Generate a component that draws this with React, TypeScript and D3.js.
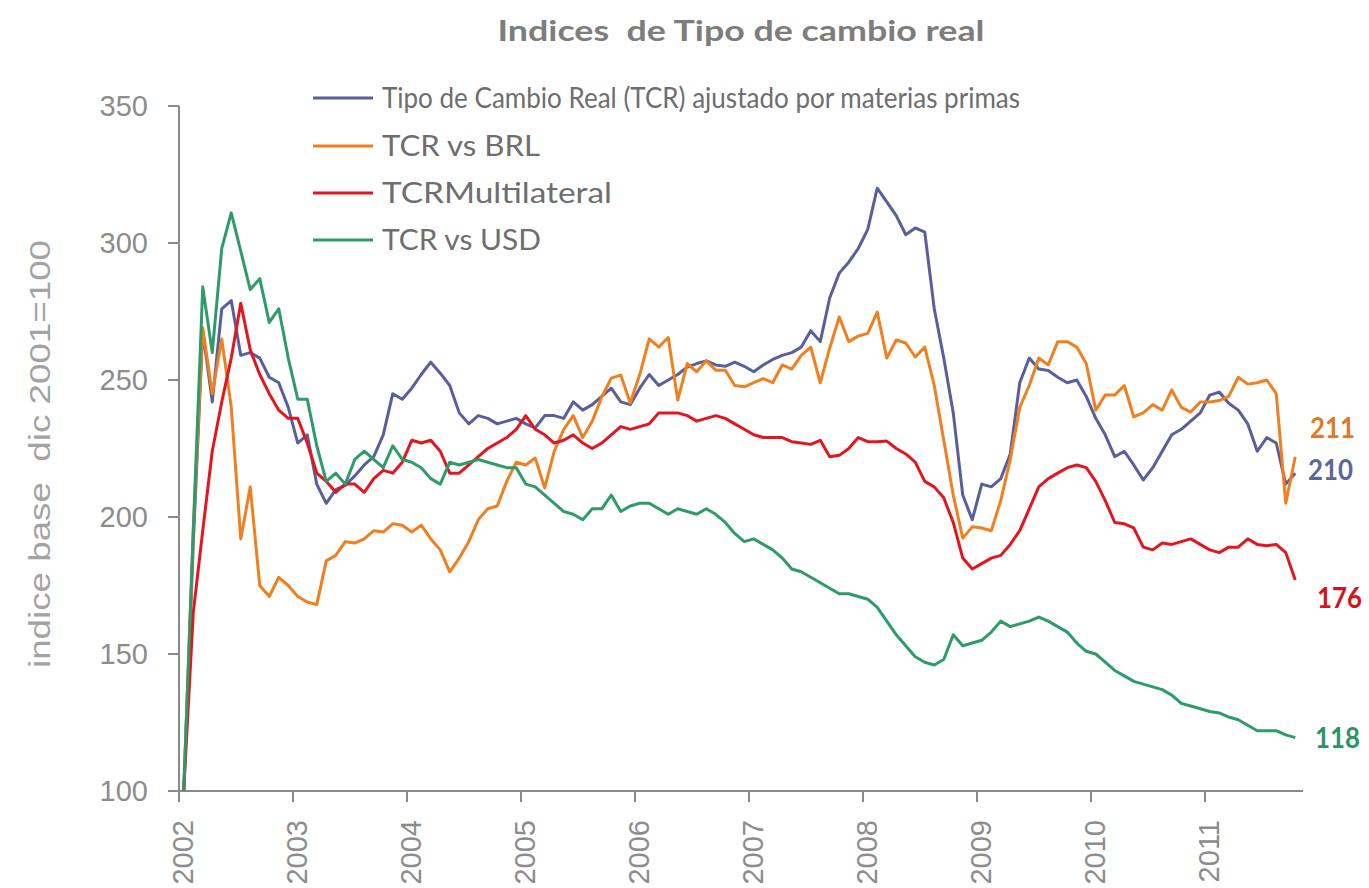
import React from 'react';
import * as d3 from 'd3';

const yearLabels = ['2002', '2003', '2004', '2005', '2006', '2007', '2008', '2009', '2010', '2011'];
const yTickValues = [100, 150, 200, 250, 300, 350];
const seriesNames = [
  'Tipo de Cambio Real (TCR) ajustado por materias primas',
  'TCR vs BRL',
  'TCRMultilateral',
  'TCR vs USD',
];
const seriesColors = ['#5a5e9b', '#f0801f', '#e3161f', '#2f9a6a'];
const labelColors = ['#e0782a', '#5c6699', '#d6131c', '#2c9465'];

// monthly index values, base dic 2001 = 100
const tcrMaterias = [
  100, 190, 268, 242, 276, 279, 259, 260, 258, 251,
  249, 240, 227, 230, 212, 205, 210, 211.5, 215, 219,
  222, 230, 245, 243, 247, 252, 256.5, 252.5, 248, 238,
  234, 237, 236, 234, 235, 236, 234, 232.5, 237, 237,
  236, 242, 239, 241, 244, 247, 242, 241, 247, 252,
  248, 250, 252, 254.7, 256, 257, 255.5, 255, 256.5, 255,
  253, 255.5, 257.5, 259, 260, 262, 268, 264, 280, 289,
  293, 298, 305, 320, 315, 310, 303, 305.5, 304, 276,
  258, 238, 208, 199, 212, 211, 214, 223, 249, 258,
  254, 253.5, 251, 249, 250, 244, 236, 230, 222, 224,
  219, 213.5, 218, 224, 230, 232, 235, 238, 244.5, 245.6,
  241.5, 239, 234, 224, 229, 227, 212, 216,
];
const tcrBRL = [
  100, 195, 269, 245, 265, 240, 192, 211, 175, 171,
  178, 175, 171, 169, 168, 184, 186, 191, 190.5, 192,
  195, 194.5, 197.5, 197, 194.5, 197, 192, 188, 180, 185,
  191, 199, 203, 204, 213, 220, 219, 221.5, 210.6, 224,
  232, 237, 229, 235, 243.8, 250.7, 251.8, 241.6, 252, 265,
  262, 265.5, 242.7, 256, 253, 257, 253.6, 253.6, 248, 247.5,
  249, 250.5, 249, 255.5, 254, 259, 262, 249, 261.7, 273,
  264, 266, 267, 274.8, 258, 264.6, 263.5, 258.4, 262, 248,
  228, 208, 192.3, 196.4, 196, 195, 206, 221, 240, 248,
  258, 255.5, 264, 264, 262, 256, 239, 244.5, 244.5, 248,
  236.5, 238, 241, 239, 246.4, 240, 238.3, 242, 242, 242.5,
  244, 251, 248.5, 249, 250, 245, 205, 222,
];
const tcrMultilateral = [
  100, 165, 195, 224, 242, 258, 278, 261, 252, 245,
  239, 236, 236, 227, 216, 213, 209, 212, 212, 209,
  214, 217, 216, 220, 228, 227, 228, 224, 216, 216,
  219, 222, 225, 227, 229, 232, 237, 232, 230, 227,
  228, 230, 227, 225, 227, 230, 233, 232, 233, 234,
  238, 238, 238, 237, 235, 236, 237, 236, 234, 232,
  230, 229, 229, 229, 227.5, 227, 226.5, 228, 222, 222.5,
  225, 229, 227.5, 227.5, 227.7, 225, 223, 220, 213, 211,
  207, 198, 185, 181, 183, 185, 186, 190, 195, 203,
  211, 214, 216, 218, 219, 218, 213, 206, 198, 197.5,
  196, 189, 188, 190.5, 190, 191, 192, 190, 188, 187,
  189, 189, 192, 190, 189.5, 190, 187, 177,
];
const tcrUSD = [
  100, 195, 284, 260, 298, 311, 297, 283, 287, 271,
  276, 258, 243, 243, 226, 213, 216, 212, 221, 224,
  221, 218, 226, 221, 220, 218, 214, 212, 220, 219,
  220, 221, 220, 219, 218, 218, 212, 211, 208, 205,
  202, 201, 199, 203, 203, 208, 202, 204, 205, 205,
  203, 201, 203, 202, 201, 203, 201, 198, 194, 191,
  192, 190, 188, 185, 181, 180, 178, 176, 174, 172,
  172, 171, 170, 167, 162, 157, 153, 149, 147, 146,
  148, 157, 153, 154, 155, 158, 162, 160, 161, 162,
  163.5, 162, 160, 158, 154, 151, 150, 147, 144, 142,
  140, 139, 138, 137, 135, 132, 131, 130, 129, 128.5,
  127, 126, 124, 122, 122, 122, 120.5, 119.5,
];
const endLabels = ['211', '210', '176', '118'];

const allSeries = [tcrMaterias, tcrBRL, tcrMultilateral, tcrUSD];

export default function App() {
  const W = 1369;
  const H = 888;
  const x = d3.scaleLinear().domain([0, 108]).range([179, 1205]);
  const y = d3.scaleLinear().domain([100, 350]).range([791, 106]);
  const axisRight = 1303;
  const line = d3
    .line<number>()
    .x((_, i) => x(i + 0.5))
    .y((d) => y(d));

  const axisColor = '#8a8a8a';
  const tickFont = '"Liberation Sans", Arial, sans-serif';
  const textFont = 'Lato, "Open Sans", sans-serif';

  const legendY = [98, 146, 193, 240];
  const legendLen = [638, 158, 230, 159];
  const endLabelPos: [number, number][] = [
    [1310, 438],
    [1308, 480],
    [1317, 608],
    [1315, 748],
  ];

  return (
    <svg
      width={W}
      height={H}
      viewBox={`0 0 ${W} ${H}`}
      style={{ position: 'absolute', left: 0, top: 0, background: '#fff' }}
    >
      <rect x={0} y={0} width={W} height={H} fill="#fff" />
      {/* title */}
      <text
        x={741}
        y={41}
        textAnchor="middle"
        fontFamily={textFont}
        fontWeight="bold"
        fontSize={28}
        fill="#7d7d7d"
        textLength={487}
        lengthAdjust="spacingAndGlyphs"
        xmlSpace="preserve"
        style={{ whiteSpace: 'pre' }}
      >
        Indices  de Tipo de cambio real
      </text>

      {/* y axis */}
      <line x1={x(0)} x2={x(0)} y1={y(350)} y2={y(100)} stroke={axisColor} strokeWidth={2} />
      {yTickValues.map((v) => (
        <g key={v}>
          <line x1={x(0) - 11} x2={x(0)} y1={y(v)} y2={y(v)} stroke={axisColor} strokeWidth={2} />
          <text
            x={148}
            y={y(v) + 10}
            textAnchor="end"
            fontFamily={tickFont}
            fontSize={29}
            fill="#8c8c8c"
          >
            {v}
          </text>
        </g>
      ))}
      <text
        transform={`translate(50, 454) rotate(-90)`}
        textAnchor="middle"
        fontFamily={tickFont}
        fontSize={29}
        fill="#a3a3a3"
        textLength={428}
        lengthAdjust="spacingAndGlyphs"
        style={{ whiteSpace: 'pre' }}
      >
        indice base  dic 2001=100
      </text>

      {/* x axis */}
      <line x1={x(0)} x2={axisRight} y1={y(100)} y2={y(100)} stroke={axisColor} strokeWidth={2} />
      {yearLabels.map((lab, k) => (
        <g key={lab}>
          <line x1={x(k * 12)} x2={x(k * 12)} y1={y(100)} y2={y(100) + 11} stroke={axisColor} strokeWidth={2} />
          <text
            transform={`translate(${x(k * 12) + 14}, ${820}) rotate(-90)`}
            textAnchor="end"
            fontFamily={tickFont}
            fontSize={29}
            fill="#8c8c8c"
          >
            {lab}
          </text>
        </g>
      ))}

      {/* series */}
      {allSeries.map((s, k) => (
        <path
          key={k}
          d={line(s) || ''}
          fill="none"
          stroke={seriesColors[k]}
          strokeWidth={3}
          strokeLinejoin="round"
        />
      ))}

      {/* legend */}
      {seriesNames.map((name, k) => (
        <g key={name}>
          <line x1={313} x2={373} y1={legendY[k]} y2={legendY[k]} stroke={seriesColors[k]} strokeWidth={3} />
          <text
            x={382}
            y={legendY[k] + 10}
            fontFamily={textFont}
            fontSize={29}
            fill="#6e6e6e"
            textLength={legendLen[k]}
            lengthAdjust="spacingAndGlyphs"
          >
            {name}
          </text>
        </g>
      ))}

      {/* end labels */}
      {endLabels.map((lab, k) => (
        <text
          key={lab}
          x={endLabelPos[k][0]}
          y={endLabelPos[k][1]}
          fontFamily={textFont}
          fontWeight="bold"
          fontSize={29}
          fill={labelColors[k]}
          textLength={45}
          lengthAdjust="spacingAndGlyphs"
        >
          {lab}
        </text>
      ))}
    </svg>
  );
}
